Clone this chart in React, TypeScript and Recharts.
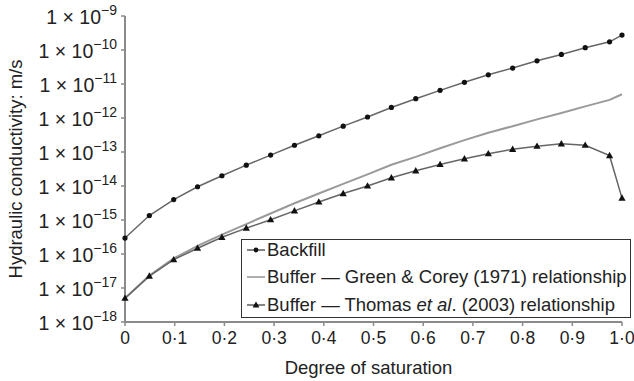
import React from 'react';
import { LineChart, Line, XAxis, YAxis, Legend } from 'recharts';

const saturation = [0, 0.049, 0.098, 0.146, 0.195, 0.244, 0.293, 0.341, 0.39, 0.439, 0.488, 0.536, 0.585, 0.634, 0.683, 0.731, 0.78, 0.829, 0.878, 0.926, 0.975, 1.0];
const backfill = [2.95e-16, 1.35e-15, 4.0e-15, 9.5e-15, 2.0e-14, 4.1e-14, 8.1e-14, 1.58e-13, 3.0e-13, 5.75e-13, 1.07e-12, 2.04e-12, 3.7e-12, 6.5e-12, 1.12e-11, 1.86e-11, 2.95e-11, 4.8e-11, 7.4e-11, 1.17e-10, 1.74e-10, 2.75e-10];
const greenCorey = [5.0e-18, 2.34e-17, 7.4e-17, 1.74e-16, 3.7e-16, 7.6e-16, 1.55e-15, 3.1e-15, 6.0e-15, 1.15e-14, 2.2e-14, 4.2e-14, 7.2e-14, 1.29e-13, 2.24e-13, 3.7e-13, 5.75e-13, 9.1e-13, 1.41e-12, 2.2e-12, 3.4e-12, 5.0e-12];
const thomas = [5.0e-18, 2.24e-17, 6.8e-17, 1.48e-16, 3.1e-16, 5.75e-16, 1.02e-15, 1.86e-15, 3.4e-15, 6.0e-15, 1.0e-14, 1.74e-14, 2.8e-14, 4.3e-14, 6.3e-14, 8.9e-14, 1.2e-13, 1.48e-13, 1.74e-13, 1.58e-13, 7.8e-14, 4.4e-15];
const xTicks = [0, 0.1, 0.2, 0.3, 0.4, 0.5, 0.6, 0.7, 0.8, 0.9, 1.0];
const yTicks = [1e-18, 1e-17, 1e-16, 1e-15, 1e-14, 1e-13, 1e-12, 1e-11, 1e-10, 1e-9];

const data = saturation.map((s, i) => ({ s, backfill: backfill[i], green: greenCorey[i], thomas: thomas[i] }));

const FONT = '"Liberation Sans", Arial, sans-serif';
const TEXT = '#222';
const AXIS = '#8a8a8a';

const XTick = (props: any) => {
  const { x, y, payload } = props;
  const v = payload.value as number;
  const label = v === 0 ? '0' : v.toFixed(1).replace('.', '\u00B7');
  return (
    <text x={x} y={y + 10} textAnchor="middle" dominantBaseline="central" fontSize={17.5} fill={TEXT} fontFamily={FONT}>
      {label}
    </text>
  );
};

const YTick = (props: any) => {
  const { x, y, payload } = props;
  const e = Math.round(Math.log10(payload.value));
  return (
    <text x={x - 2} y={y + 1} textAnchor="end" dominantBaseline="central" fontSize={19.5} fill={TEXT} fontFamily={FONT}>
      {'1 \u00D7 10'}
      <tspan dy={-7.5} fontSize={14}>{'\u2212' + Math.abs(e)}</tspan>
    </text>
  );
};

const YTitle = (props: any) => {
  const vb = props.viewBox || { x: 0, y: 16, width: 125, height: 306 };
  const cx = 15;
  const cy = vb.y + vb.height / 2;
  return (
    <text x={cx} y={cy} transform={`rotate(-90 ${cx} ${cy})`} textAnchor="middle" dominantBaseline="central" fontSize={18.5} fill={TEXT} fontFamily={FONT}>
      Hydraulic conductivity: m/s
    </text>
  );
};

const XTitle = (props: any) => {
  const vb = props.viewBox || { x: 125, y: 322, width: 497, height: 59 };
  const cx = vb.x + vb.width / 2 - 5;
  const cy = vb.y + 45;
  return (
    <text x={cx} y={cy} textAnchor="middle" dominantBaseline="central" fontSize={18.5} fill={TEXT} fontFamily={FONT}>
      Degree of saturation
    </text>
  );
};

const dotCircle = (props: any) => {
  const { cx, cy, index } = props;
  return <circle key={`c${index}`} cx={cx} cy={cy} r={2.6} fill="#111" />;
};

const dotTriangle = (props: any) => {
  const { cx, cy, index } = props;
  return <path key={`t${index}`} d={`M${cx},${cy - 3.8} L${cx - 3.6},${cy + 2.6} L${cx + 3.6},${cy + 2.6} Z`} fill="#111" />;
};

const legendRows = [
  { key: 'backfill', color: '#666', marker: 'circle' },
  { key: 'green', color: '#9a9a9a', marker: 'none' },
  { key: 'thomas', color: '#666', marker: 'triangle' },
];

const LegendBox = () => {
  const rowTops = [-4, 23, 50.5];
  const icon = (marker: string, color: string) => (
    <svg width={20} height={12} style={{ position: 'absolute', left: 4, top: 8 }}>
      <line x1={1} y1={6} x2={19} y2={6} stroke={color} strokeWidth={1.6} />
      {marker === 'circle' && <circle cx={10} cy={6} r={2.4} fill="#111" />}
      {marker === 'triangle' && <path d="M10,2.4 L6.6,8.4 L13.4,8.4 Z" fill="#111" />}
    </svg>
  );
  const texts = [
    <>Backfill</>,
    <>Buffer {'\u2014'} Green &amp; Corey (1971) relationship</>,
    <>Buffer {'\u2014'} Thomas <i>et al</i>. (2003) relationship</>,
  ];
  return (
    <div style={{ position: 'relative', width: 390, height: 79, boxSizing: 'border-box', border: '1.5px solid #333', background: '#fff', fontFamily: FONT, fontSize: 18.5, color: TEXT }}>
      {legendRows.map((r, i) => (
        <div key={r.key} style={{ position: 'absolute', left: 0, top: rowTops[i], height: 28, lineHeight: '28px', width: 386, whiteSpace: 'nowrap' }}>
          {icon(r.marker, r.color)}
          <span style={{ position: 'absolute', left: 25, top: 0 }}>{texts[i]}</span>
        </div>
      ))}
    </div>
  );
};

export default function App() {
  return (
    <div style={{ position: 'absolute', left: 0, top: 0, background: '#fff' }}>
      <LineChart width={634} height={381} data={data} margin={{ top: 16, right: 12, left: 0, bottom: 0 }}>
        <XAxis
          dataKey="s"
          type="number"
          domain={[0, 1]}
          ticks={xTicks}
          interval={0}
          height={59}
          axisLine={{ stroke: AXIS, strokeWidth: 2 }}
          tickLine={{ stroke: AXIS, strokeWidth: 1.5 }}
          tickSize={4}
          tick={<XTick />}
          label={<XTitle />}
        />
        <YAxis
          type="number"
          scale="log"
          domain={[1e-18, 1e-9]}
          ticks={yTicks}
          interval={0}
          allowDataOverflow
          width={125}
          axisLine={{ stroke: AXIS, strokeWidth: 2 }}
          tickLine={{ stroke: AXIS, strokeWidth: 1.5 }}
          tickSize={4}
          tick={<YTick />}
          label={<YTitle />}
        />
        <Legend
          layout="vertical"
          align="center"
          verticalAlign="middle"
          content={<LegendBox />}
          wrapperStyle={{ position: 'absolute', left: 241, top: 239, width: 390, height: 79 }}
        />
        <Line dataKey="green" name="Buffer — Green & Corey (1971) relationship" stroke="#9a9a9a" strokeWidth={2} dot={false} activeDot={false} isAnimationActive={false} type="linear" />
        <Line dataKey="thomas" name="Buffer — Thomas et al. (2003) relationship" stroke="#666" strokeWidth={1.5} dot={dotTriangle} activeDot={false} isAnimationActive={false} type="linear" />
        <Line dataKey="backfill" name="Backfill" stroke="#666" strokeWidth={1.5} dot={dotCircle} activeDot={false} isAnimationActive={false} type="linear" />
      </LineChart>
    </div>
  );
}
